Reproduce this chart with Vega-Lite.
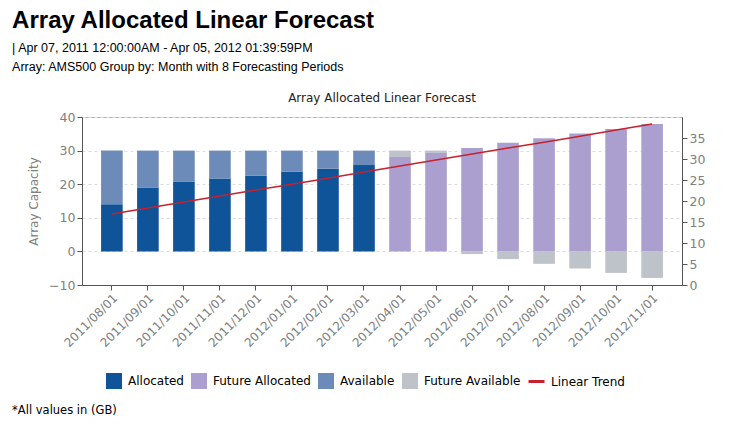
{
  "$schema": "https://vega.github.io/schema/vega-lite/v6.json",
  "padding": {"left": 12, "top": 9, "right": 5, "bottom": 5},
  "background": "white",
  "config": {
    "view": {"stroke": "#b0b0b0"},
    "font": "DejaVu Sans",
    "axis": {
      "labelColor": "#808080",
      "labelFont": "DejaVu Sans",
      "labelFontSize": 12,
      "labelOverlap": false,
      "tickColor": "#555555",
      "domainColor": "#555555",
      "titleColor": "#808080",
      "titleFont": "DejaVu Sans",
      "titleFontWeight": "normal",
      "titleFontSize": 12
    },
    "legend": {
      "labelFont": "DejaVu Sans",
      "labelFontSize": 12,
      "labelColor": "#000000",
      "columnPadding": 6,
      "labelOffset": 5
    }
  },
  "datasets": {
    "bars": [
      {"month": "2011/08/01", "series": "Allocated", "value": 14.0},
      {"month": "2011/08/01", "series": "Available", "value": 16.0},
      {"month": "2011/09/01", "series": "Allocated", "value": 19.0},
      {"month": "2011/09/01", "series": "Available", "value": 11.0},
      {"month": "2011/10/01", "series": "Allocated", "value": 20.7},
      {"month": "2011/10/01", "series": "Available", "value": 9.3},
      {"month": "2011/11/01", "series": "Allocated", "value": 21.7},
      {"month": "2011/11/01", "series": "Available", "value": 8.3},
      {"month": "2011/12/01", "series": "Allocated", "value": 22.6},
      {"month": "2011/12/01", "series": "Available", "value": 7.4},
      {"month": "2012/01/01", "series": "Allocated", "value": 23.7},
      {"month": "2012/01/01", "series": "Available", "value": 6.3},
      {"month": "2012/02/01", "series": "Allocated", "value": 24.6},
      {"month": "2012/02/01", "series": "Available", "value": 5.4},
      {"month": "2012/03/01", "series": "Allocated", "value": 25.7},
      {"month": "2012/03/01", "series": "Available", "value": 4.3},
      {"month": "2012/04/01", "series": "Future Allocated", "value": 28.1},
      {"month": "2012/04/01", "series": "Future Available", "value": 1.9},
      {"month": "2012/05/01", "series": "Future Allocated", "value": 29.3},
      {"month": "2012/05/01", "series": "Future Available", "value": 0.7},
      {"month": "2012/06/01", "series": "Future Allocated", "value": 30.8},
      {"month": "2012/06/01", "series": "Future Available", "value": -0.8},
      {"month": "2012/07/01", "series": "Future Allocated", "value": 32.3},
      {"month": "2012/07/01", "series": "Future Available", "value": -2.3},
      {"month": "2012/08/01", "series": "Future Allocated", "value": 33.7},
      {"month": "2012/08/01", "series": "Future Available", "value": -3.7},
      {"month": "2012/09/01", "series": "Future Allocated", "value": 35.1},
      {"month": "2012/09/01", "series": "Future Available", "value": -5.1},
      {"month": "2012/10/01", "series": "Future Allocated", "value": 36.4},
      {"month": "2012/10/01", "series": "Future Available", "value": -6.4},
      {"month": "2012/11/01", "series": "Future Allocated", "value": 37.9},
      {"month": "2012/11/01", "series": "Future Available", "value": -7.9}
    ],
    "trend": [
      {"month": "2011/08/01", "series": "Linear Trend", "value": 11.1},
      {"month": "2011/09/01", "series": "Linear Trend", "value": 12.9},
      {"month": "2011/10/01", "series": "Linear Trend", "value": 14.7},
      {"month": "2011/11/01", "series": "Linear Trend", "value": 16.5},
      {"month": "2011/12/01", "series": "Linear Trend", "value": 18.3},
      {"month": "2012/01/01", "series": "Linear Trend", "value": 20.0},
      {"month": "2012/02/01", "series": "Linear Trend", "value": 21.8},
      {"month": "2012/03/01", "series": "Linear Trend", "value": 23.6},
      {"month": "2012/04/01", "series": "Linear Trend", "value": 25.4},
      {"month": "2012/05/01", "series": "Linear Trend", "value": 27.2},
      {"month": "2012/06/01", "series": "Linear Trend", "value": 29.0},
      {"month": "2012/07/01", "series": "Linear Trend", "value": 30.8},
      {"month": "2012/08/01", "series": "Linear Trend", "value": 32.5},
      {"month": "2012/09/01", "series": "Linear Trend", "value": 34.3},
      {"month": "2012/10/01", "series": "Linear Trend", "value": 36.1},
      {"month": "2012/11/01", "series": "Linear Trend", "value": 37.9}
    ]
  },
  "title": {
    "text": "*All values in (GB)",
    "orient": "bottom",
    "anchor": "start",
    "dx": 0,
    "font": "DejaVu Sans",
    "fontSize": 11.5,
    "fontWeight": "normal",
    "color": "#000000",
    "offset": 16
  },
  "vconcat": [
    {
      "title": {
        "text": "Array Allocated Linear Forecast",
        "subtitle": ["| Apr 07, 2011 12:00:00AM - Apr 05, 2012 01:39:59PM", "Array: AMS500 Group by: Month with 8 Forecasting Periods"],
        "anchor": "start",
        "dx": -15,
        "font": "Liberation Sans",
        "fontSize": 24,
        "fontWeight": "bold",
        "color": "#000000",
        "subtitleFont": "Liberation Sans",
        "subtitleFontSize": 12.5,
        "subtitleColor": "#000000",
        "subtitlePadding": 9,
        "subtitleLineHeight": 19,
        "offset": 18
      },
      "vconcat": [
        {
          "title": {"text": "Array Allocated Linear Forecast", "font": "DejaVu Sans", "fontSize": 12, "fontWeight": "normal", "color": "#222222", "offset": 6},
          "width": 600,
          "height": 168,
          "resolve": {"scale": {"y": "independent"}},
          "layer": [
            {
              "layer": [
                {
                  "data": {"name": "bars"},
                  "mark": {"type": "bar"},
                  "encoding": {
                    "x": {
                      "field": "month",
                      "type": "ordinal",
                      "sort": null,
                      "scale": {"paddingInner": 0.4, "paddingOuter": 0.53},
                      "axis": {"title": null, "labelAngle": -45, "tickSize": 5, "labelFontSize": 12, "labelOverlap": false}
                    },
                    "y": {
                      "field": "value",
                      "type": "quantitative",
                      "stack": "zero",
                      "scale": {"domain": [-10, 40], "nice": false},
                      "axis": {"title": "Array Capacity", "values": [-10, 0, 10, 20, 30, 40], "grid": true, "gridDash": [3, 3], "gridColor": "#dddddd", "tickSize": 5, "titlePadding": 8, "labelFontSize": 12.5, "labelOverlap": false, "labelFlush": false, "labelBound": false}
                    },
                    "color": {
                      "field": "series",
                      "type": "nominal",
                      "scale": {"domain": ["Allocated", "Future Allocated", "Available", "Future Available"], "range": ["#0f5499", "#ab9fcf", "#6d8bb8", "#bec2c9"]},
                      "legend": {"title": null, "orient": "none", "legendX": 23, "legendY": 255, "direction": "horizontal", "symbolType": "square", "symbolSize": 256, "symbolOpacity": 1}
                    },
                    "order": {"field": "series", "sort": "ascending"}
                  }
                },
                {
                  "data": {"name": "trend"},
                  "mark": {"type": "line", "strokeWidth": 1.5},
                  "encoding": {
                    "x": {"field": "month", "type": "ordinal", "sort": null},
                    "y": {
                      "field": "value",
                      "type": "quantitative",
                      "axis": {"title": "Array Capacity", "values": [-10, 0, 10, 20, 30, 40], "grid": true, "gridDash": [3, 3], "gridColor": "#dddddd", "tickSize": 5, "titlePadding": 8, "labelFontSize": 12.5, "labelOverlap": false, "labelFlush": false, "labelBound": false}
                    },
                    "stroke": {
                      "field": "series",
                      "type": "nominal",
                      "scale": {"range": ["#c8202d"]},
                      "legend": {"title": null, "orient": "none", "legendX": 445, "legendY": 255, "direction": "horizontal", "symbolType": "stroke", "symbolStrokeWidth": 3, "symbolSize": 256}
                    }
                  }
                }
              ]
            },
            {
              "data": {"name": "trend"},
              "mark": {"type": "rule", "opacity": 0},
              "encoding": {
                "y": {
                  "datum": 0,
                  "type": "quantitative",
                  "scale": {"domain": [0, 40], "nice": false},
                  "axis": {"orient": "right", "title": null, "values": [0, 5, 10, 15, 20, 25, 30, 35], "grid": false, "tickSize": 5, "labelFontSize": 12.5, "labelOverlap": false}
                }
              }
            }
          ]
        }
      ]
    }
  ]
}
